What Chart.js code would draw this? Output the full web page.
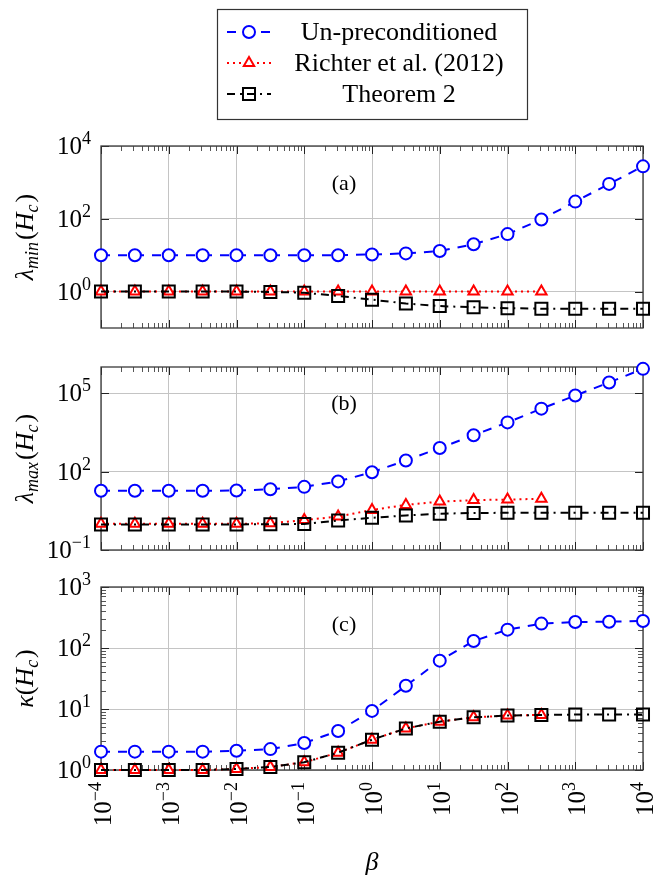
<!DOCTYPE html>
<html>
<head>
<meta charset="utf-8">
<script src="https://cdn.jsdelivr.net/npm/chart.js@4.4.0/dist/chart.umd.min.js"></script>
<style>
html, body { margin: 0; padding: 0; background: #fff; }
#wrap { position: relative; width: 657px; height: 878px; }
#wrap canvas { position: absolute; left: 0; top: 0; }
</style>
</head>
<body>
<div id="wrap">
  <canvas id="ca" width="657" height="878"></canvas>
  <canvas id="cb" width="657" height="878"></canvas>
  <canvas id="cc" width="657" height="878"></canvas>
</div>
<script>
// beta values (half decades from 1e-4 to 1e4)
const beta = [1e-4, 3.162e-4, 1e-3, 3.162e-3, 1e-2, 3.162e-2, 0.1, 0.3162, 1, 3.162, 10, 31.62, 100, 316.2, 1000, 3162, 10000];

// (a) lambda_min
const lminPlain   = [10, 10, 10, 10, 10, 10, 10, 10, 10.5, 11.2, 13, 20, 38, 96, 297, 910, 2760];
const lminRichter = [1, 1, 1, 1, 1, 1, 1, 1, 1, 1, 1, 1, 1, 1];
const lminThm2    = [1, 1, 1, 1, 1, 0.98, 0.93, 0.76, 0.6, 0.47, 0.4, 0.37, 0.35, 0.34, 0.34, 0.34, 0.34];

// (b) lambda_max
const lmaxPlain   = [18.5, 18.5, 18.5, 18.5, 18.8, 21, 26, 42, 94, 266, 794, 2460, 7600, 25500, 81000, 257000, 850000];
const lmaxRichter = [1, 1, 1, 1, 1, 1.05, 1.4, 1.9, 3.4, 5.3, 7.1, 8.1, 8.5, 9.1];
const lmaxThm2    = [0.95, 0.95, 0.95, 0.95, 0.95, 0.97, 0.98, 1.35, 1.7, 2.1, 2.45, 2.6, 2.65, 2.65, 2.65, 2.65, 2.65];

// (c) kappa
const kappaPlain   = [2.0, 2.0, 2.0, 2.0, 2.07, 2.2, 2.77, 4.36, 9.3, 24, 62, 130, 200, 251, 267, 270, 277];
const kappaRichter = [1, 1, 1, 1, 1.04, 1.12, 1.34, 1.92, 3.14, 4.8, 6.2, 7.3, 7.8, 8.0];
const kappaThm2    = [1, 1, 1, 1, 1.04, 1.12, 1.34, 1.92, 3.14, 4.8, 6.2, 7.3, 7.8, 8.0, 8.1, 8.1, 8.1];

const seriesNames = ['Un-preconditioned', 'Richter et al. (2012)', 'Theorem 2'];

// tick exponents
const xExp  = [-4, -3, -2, -1, 0, 1, 2, 3, 4];
const yExpA = [0, 2, 4];
const yExpB = [-1, 2, 5];
const yExpC = [0, 1, 2, 3];

const SERIF = "'Liberation Serif','DejaVu Serif',serif";
Chart.defaults.font.family = SERIF;

const styles = [
  {color: '#0000ff', dash: [9, 8], point: 'circle', radius: 6, fill: '#ffffff'},
  {color: '#ff0000', dash: [2, 4], point: 'triangle', radius: 6, fill: '#ffffff'},
  {color: '#000000', dash: [8, 5, 2, 5], point: 'rect', radius: 8.5, fill: 'rgba(0,0,0,0)'}
];

function pts(vals) {
  return vals.map((v, i) => ({x: beta[i], y: v}));
}

function makeDatasets(lists) {
  return lists.map((vals, i) => ({
    label: seriesNames[i],
    data: pts(vals),
    showLine: true,
    borderColor: styles[i].color,
    borderWidth: 2,
    borderDash: styles[i].dash,
    pointStyle: styles[i].point,
    pointRadius: styles[i].radius,
    pointBorderWidth: 2,
    pointBorderColor: styles[i].color,
    pointBackgroundColor: styles[i].fill,
    clip: false,
    order: 3 - i
  }));
}

function drawPow(ctx, e, big, small, raise) {
  // "10^e", right aligned at the origin, baseline at y=0
  const expStr = e < 0 ? '\u2212' + (-e) : String(e);
  ctx.font = big + 'px ' + SERIF;
  const w10 = ctx.measureText('10').width;
  ctx.font = small + 'px ' + SERIF;
  const we = ctx.measureText(expStr).width;
  ctx.textAlign = 'left';
  ctx.textBaseline = 'alphabetic';
  ctx.font = big + 'px ' + SERIF;
  ctx.fillText('10', -(w10 + we), 0);
  ctx.font = small + 'px ' + SERIF;
  ctx.fillText(expStr, -we, -raise);
}

function drawMath(ctx, pieces) {
  // pieces centered horizontally at origin, baseline at y=0
  const fontOf = p => (p.i ? 'italic ' : '') + (p.sub ? 18 : 26) + 'px ' + SERIF;
  let total = 0;
  pieces.forEach(p => { ctx.font = fontOf(p); total += ctx.measureText(p.t).width + (p.gap || 0); });
  let cx = -total / 2;
  ctx.textAlign = 'left';
  ctx.textBaseline = 'alphabetic';
  pieces.forEach(p => {
    ctx.font = fontOf(p);
    ctx.fillText(p.t, cx, p.sub ? 5 : 0);
    cx += ctx.measureText(p.t).width + (p.gap || 0);
  });
}

function drawLegend(ctx) {
  const box = {l: 217, t: 9, r: 527, b: 119};
  ctx.fillStyle = '#fff';
  ctx.fillRect(box.l, box.t, box.r - box.l, box.b - box.t);
  ctx.strokeStyle = '#333';
  ctx.lineWidth = 1.2;
  ctx.setLineDash([]);
  ctx.strokeRect(box.l + 0.5, box.t + 0.5, box.r - box.l, box.b - box.t);
  const rows = [32, 63, 94];
  seriesNames.forEach((name, i) => {
    const s = styles[i], y = rows[i];
    ctx.strokeStyle = s.color;
    ctx.lineWidth = 2;
    ctx.setLineDash(s.dash);
    ctx.beginPath();
    ctx.moveTo(227, y); ctx.lineTo(271, y);
    ctx.stroke();
    ctx.setLineDash([]);
    ctx.fillStyle = s.fill;
    Chart.helpers.drawPoint(ctx, {pointStyle: s.point, radius: s.radius, borderWidth: 2, rotation: 0}, 249, y);
    ctx.fillStyle = '#000';
    ctx.font = '26px ' + SERIF;
    ctx.textAlign = 'center';
    ctx.textBaseline = 'alphabetic';
    ctx.fillText(name, 399, y + 8);
  });
}

const panelDeco = {
  id: 'panelDeco',
  beforeDatasetsDraw(chart, args, o) {
    const {ctx, chartArea: a, scales: {x, y}} = chart;
    ctx.save();
    ctx.setLineDash([]);
    ctx.strokeStyle = '#555';
    ctx.lineWidth = 1;
    ctx.beginPath();
    for (let k = -4; k < 4; k++) {
      for (let m = 2; m <= 9; m++) {
        const px = Math.round(x.getPixelForValue(m * Math.pow(10, k))) + 0.5;
        ctx.moveTo(px, a.bottom); ctx.lineTo(px, a.bottom - 5);
        ctx.moveTo(px, a.top); ctx.lineTo(px, a.top + 5);
      }
    }
    if (o.yMinor) {
      for (let k = 0; k < 3; k++) {
        for (let m = 2; m <= 9; m++) {
          const py = Math.round(y.getPixelForValue(m * Math.pow(10, k))) + 0.5;
          ctx.moveTo(a.left, py); ctx.lineTo(a.left + 5, py);
          ctx.moveTo(a.right, py); ctx.lineTo(a.right - 5, py);
        }
      }
    }
    ctx.stroke();
    ctx.strokeStyle = '#222';
    ctx.beginPath();
    xExp.forEach(e => {
      const px = Math.round(x.getPixelForValue(Math.pow(10, e))) + 0.5;
      ctx.moveTo(px, a.bottom); ctx.lineTo(px, a.bottom - 8);
      ctx.moveTo(px, a.top); ctx.lineTo(px, a.top + 8);
    });
    o.yExp.forEach(e => {
      const py = Math.round(y.getPixelForValue(Math.pow(10, e))) + 0.5;
      ctx.moveTo(a.left, py); ctx.lineTo(a.left + 8, py);
      ctx.moveTo(a.right, py); ctx.lineTo(a.right - 8, py);
    });
    ctx.stroke();
    ctx.strokeStyle = '#3a3a3a';
    ctx.lineWidth = 1.3;
    ctx.strokeRect(a.left, a.top, a.right - a.left, a.bottom - a.top);
    ctx.restore();
  },
  afterDraw(chart, args, o) {
    const {ctx, chartArea: a, scales: {x, y}} = chart;
    ctx.save();
    ctx.fillStyle = '#000';
    // y tick labels
    o.yExp.forEach(e => {
      const py = y.getPixelForValue(Math.pow(10, e));
      ctx.save();
      ctx.translate(a.left - 10, py + 8);
      drawPow(ctx, e, 25, 18, 10);
      ctx.restore();
    });
    // x tick labels (rotated)
    if (o.xLabels) {
      xExp.forEach(e => {
        const px = x.getPixelForValue(Math.pow(10, e));
        ctx.save();
        ctx.translate(px + 10, a.bottom + 12);
        ctx.rotate(-Math.PI / 2);
        drawPow(ctx, e, 25, 18, 10);
        ctx.restore();
      });
      ctx.save();
      ctx.translate((a.left + a.right) / 2, 870);
      drawMath(ctx, [{t: '\u03b2', i: true}]);
      ctx.restore();
    }
    // y title
    ctx.save();
    ctx.translate(33, (a.top + a.bottom) / 2);
    ctx.rotate(-Math.PI / 2);
    drawMath(ctx, o.title);
    ctx.restore();
    // panel label
    ctx.font = '22px ' + SERIF;
    ctx.textAlign = 'center';
    ctx.textBaseline = 'middle';
    ctx.fillText(o.label, 344, o.labelY);
    if (o.legend) drawLegend(ctx);
    ctx.restore();
  }
};

function makeChart(id, lists, yMin, yMax, deco, pad) {
  return new Chart(document.getElementById(id), {
    type: 'scatter',
    data: {datasets: makeDatasets(lists)},
    options: {
      responsive: false,
      animation: false,
      layout: {padding: pad},
      plugins: {legend: {display: false}, tooltip: {enabled: false}, panelDeco: deco},
      scales: {
        x: {
          type: 'logarithmic', min: 1e-4, max: 1e4,
          afterBuildTicks: s => { s.ticks = xExp.map(e => ({value: Math.pow(10, e)})); },
          afterFit: s => { s.height = 0; },
          ticks: {display: false},
          grid: {color: '#c4c4c4', lineWidth: 1, drawTicks: false},
          border: {display: false}
        },
        y: {
          type: 'logarithmic', min: yMin, max: yMax,
          afterBuildTicks: s => { s.ticks = deco.yExp.map(e => ({value: Math.pow(10, e)})); },
          afterFit: s => { s.width = 101; },
          ticks: {display: false},
          grid: {color: '#c4c4c4', lineWidth: 1, drawTicks: false},
          border: {display: false}
        }
      }
    },
    plugins: [panelDeco]
  });
}

makeChart('ca', [lminPlain, lminRichter, lminThm2], 0.1, 1e4, {
  yExp: yExpA, label: '(a)', labelY: 184, legend: true,
  title: [{t: '\u03bb', i: true}, {t: 'min', i: true, sub: true, gap: 2}, {t: '('}, {t: 'H', i: true}, {t: 'c', i: true, sub: true, gap: 2}, {t: ')'}]
}, {top: 146, bottom: 550, left: 0, right: 14});

makeChart('cb', [lmaxPlain, lmaxRichter, lmaxThm2], 0.1, 1e6, {
  yExp: yExpB, label: '(b)', labelY: 404,
  title: [{t: '\u03bb', i: true}, {t: 'max', i: true, sub: true, gap: 2}, {t: '('}, {t: 'H', i: true}, {t: 'c', i: true, sub: true, gap: 2}, {t: ')'}]
}, {top: 367, bottom: 328, left: 0, right: 14});

makeChart('cc', [kappaPlain, kappaRichter, kappaThm2], 1, 1000, {
  yExp: yExpC, label: '(c)', labelY: 625, yMinor: true, xLabels: true,
  title: [{t: '\u03ba', i: true}, {t: '('}, {t: 'H', i: true}, {t: 'c', i: true, sub: true, gap: 2}, {t: ')'}]
}, {top: 587, bottom: 108, left: 0, right: 14});
</script>
</body>
</html>
